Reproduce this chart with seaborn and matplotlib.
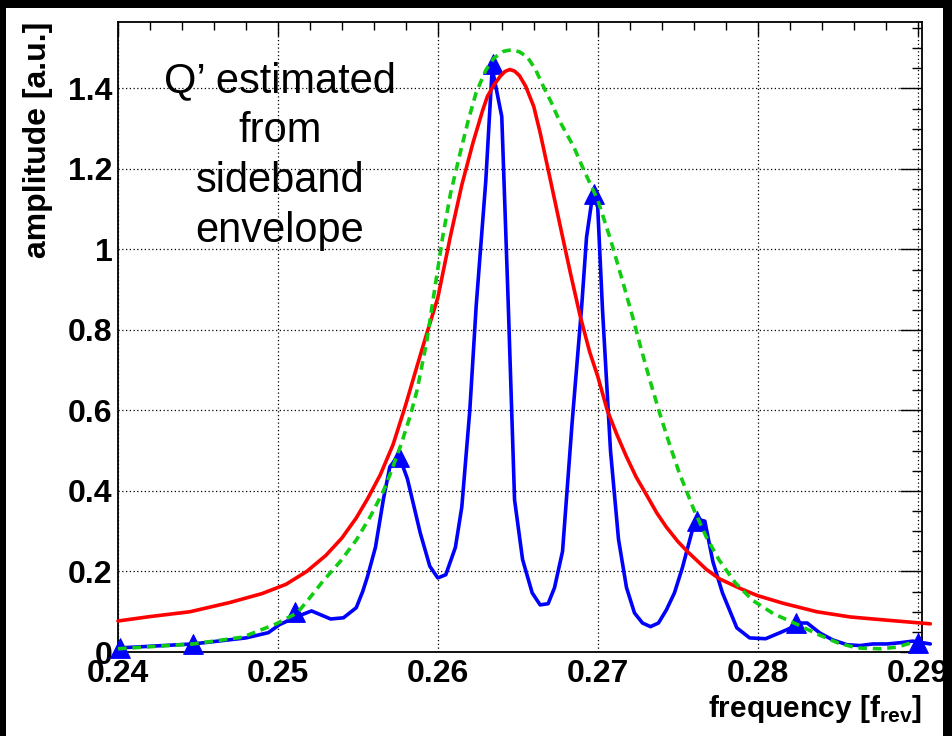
import matplotlib
matplotlib.use("Agg")
import matplotlib.pyplot as plt
from matplotlib.patches import Rectangle
from matplotlib.ticker import MultipleLocator, FuncFormatter
import seaborn as sns
import pandas as pd

# ---------------- data ----------------
blue_x = [0.2400, 0.2447, 0.2480, 0.2494, 0.2501, 0.2512, 0.2521, 0.2527, 0.2533, 0.2541,
          0.2549, 0.2553, 0.2556, 0.2561, 0.2566, 0.2570, 0.2573, 0.2576, 0.2581, 0.2589,
          0.2595, 0.2600, 0.2605, 0.2611, 0.2615, 0.2620, 0.2624, 0.2630, 0.2634, 0.2640,
          0.2644, 0.2648, 0.2653, 0.2659, 0.2664, 0.2669, 0.2673, 0.2678, 0.2684, 0.2690,
          0.2693, 0.2697, 0.2700, 0.2703, 0.2708, 0.2713, 0.2718, 0.2723, 0.2728, 0.2733,
          0.2738, 0.2743, 0.2748, 0.2753, 0.2759, 0.2762, 0.2767, 0.2772, 0.2778, 0.2787,
          0.2795, 0.2805, 0.2814, 0.2822, 0.2827, 0.2831, 0.2839, 0.2847, 0.2856, 0.2864,
          0.2872, 0.2881, 0.2889, 0.2897, 0.2908]
blue_y = [0.010, 0.020, 0.035, 0.048, 0.068, 0.088, 0.102, 0.092, 0.082, 0.085,
          0.110, 0.150, 0.187, 0.260, 0.380, 0.460, 0.475, 0.485, 0.430, 0.296,
          0.213, 0.184, 0.192, 0.260, 0.360, 0.600, 0.860, 1.170, 1.450, 1.330,
          0.870, 0.378, 0.230, 0.147, 0.117, 0.120, 0.160, 0.250, 0.570, 0.860,
          1.030, 1.140, 1.105, 0.850, 0.500, 0.280, 0.160, 0.097, 0.072, 0.063,
          0.072, 0.105, 0.147, 0.210, 0.300, 0.330, 0.325, 0.225, 0.147, 0.060,
          0.035, 0.033, 0.048, 0.062, 0.072, 0.072, 0.047, 0.030, 0.018, 0.016,
          0.020, 0.020, 0.023, 0.027, 0.020]

marker_x = [0.2401, 0.2447, 0.2511, 0.2576, 0.26345, 0.26977, 0.2762, 0.2824, 0.2900]
marker_y = [0.010, 0.020, 0.100, 0.485, 1.461, 1.138, 0.326, 0.073, 0.023]

red_x = [0.2400, 0.2420, 0.2445, 0.2470, 0.2490, 0.2505, 0.2518, 0.2530, 0.2540, 0.2549,
         0.2556, 0.2564, 0.2572, 0.2580, 0.2587, 0.2593, 0.2600, 0.2608, 0.2615, 0.2622,
         0.2628, 0.2631, 0.2635, 0.2639, 0.2642, 0.2645, 0.2648, 0.2651, 0.2655, 0.2660,
         0.2664, 0.2670, 0.2677, 0.2683, 0.2689, 0.2695, 0.2700, 0.2706, 0.2712, 0.2718,
         0.2724, 0.2731, 0.2737, 0.2743, 0.2750, 0.2756, 0.2768, 0.2776, 0.2789, 0.2800,
         0.2816, 0.2837, 0.2858, 0.2878, 0.2908]
red_y = [0.077, 0.088, 0.100, 0.123, 0.145, 0.168, 0.200, 0.240, 0.283, 0.333,
         0.380, 0.440, 0.515, 0.615, 0.710, 0.790, 0.880, 1.035, 1.160, 1.265,
         1.345, 1.380, 1.408, 1.430, 1.442, 1.447, 1.443, 1.432, 1.405, 1.355,
         1.290, 1.180, 1.050, 0.940, 0.835, 0.745, 0.685, 0.600, 0.540, 0.485,
         0.435, 0.387, 0.345, 0.310, 0.275, 0.250, 0.205, 0.182, 0.158, 0.140,
         0.121, 0.100, 0.087, 0.080, 0.070]

green_x = [0.2400, 0.2447, 0.2478, 0.2499, 0.2512, 0.2518, 0.2528, 0.2539, 0.2549, 0.2558,
           0.2566, 0.2570, 0.2577, 0.2583, 0.2587, 0.2593, 0.2598, 0.2603, 0.2608, 0.2614,
           0.2619, 0.2624, 0.2630, 0.2635, 0.2641, 0.2646, 0.2651, 0.2656, 0.2661, 0.2666,
           0.2671, 0.2676, 0.2685, 0.2691, 0.2700, 0.2708, 0.2716, 0.2722, 0.2727, 0.2733,
           0.2739, 0.2745, 0.2751, 0.2760, 0.2768, 0.2776, 0.2786, 0.2797, 0.2810, 0.2825,
           0.2837, 0.2850, 0.2862, 0.2877, 0.2887, 0.2898]
green_y = [0.008, 0.020, 0.037, 0.070, 0.097, 0.125, 0.175, 0.225, 0.278, 0.338,
           0.400, 0.440, 0.515, 0.590, 0.650, 0.770, 0.900, 1.030, 1.140, 1.240,
           1.320, 1.390, 1.445, 1.475, 1.492, 1.496, 1.491, 1.478, 1.448, 1.405,
           1.365, 1.320, 1.255, 1.200, 1.123, 1.025, 0.915, 0.830, 0.755, 0.670,
           0.590, 0.515, 0.445, 0.355, 0.285, 0.228, 0.172, 0.128, 0.095, 0.068,
           0.045, 0.023, 0.010, 0.008, 0.012, 0.025]

x_ticks = [0.24, 0.25, 0.26, 0.27, 0.28, 0.29]
y_ticks = [0, 0.2, 0.4, 0.6, 0.8, 1.0, 1.2, 1.4]
x_label = "frequency [f$_{\\mathbf{rev}}$]"
y_label = "amplitude [a.u.]"
note_text = "Q\u2019 estimated\nfrom\nsideband\nenvelope"

# ---------------- style ----------------
sns.set_style("white")
plt.rcParams["font.family"] = ["Liberation Sans", "DejaVu Sans"]
plt.rcParams["mathtext.fontset"] = "custom"
plt.rcParams["mathtext.rm"] = "Liberation Sans"
plt.rcParams["mathtext.bf"] = "Liberation Sans:bold"
plt.rcParams["text.color"] = "black"
plt.rcParams["axes.labelcolor"] = "black"
plt.rcParams["xtick.color"] = "black"
plt.rcParams["ytick.color"] = "black"

W, H = 953, 736
fig = plt.figure(figsize=(W / 100, H / 100), dpi=100, facecolor="white")
ax_l, ax_r, ax_t, ax_b = 118, 922, 22, 652
ax = fig.add_axes([ax_l / W, 1 - ax_b / H, (ax_r - ax_l) / W, (ax_b - ax_t) / H])
ax.set_facecolor("white")

df_blue = pd.DataFrame({"f": blue_x, "a": blue_y})
df_red = pd.DataFrame({"f": red_x, "a": red_y})
df_green = pd.DataFrame({"f": green_x, "a": green_y})
df_mark = pd.DataFrame({"f": marker_x, "a": marker_y})

LW = 2.6
sns.lineplot(data=df_blue, x="f", y="a", ax=ax, color="#0000ff", linewidth=LW,
             sort=False, estimator=None, zorder=3, clip_on=False)
sns.scatterplot(data=df_mark, x="f", y="a", ax=ax, marker="^", s=200, color="#0000ff",
                edgecolor="#0000ff", linewidth=0.8, zorder=4, clip_on=False)
sns.lineplot(data=df_red, x="f", y="a", ax=ax, color="#ff0000", linewidth=LW,
             sort=False, estimator=None, zorder=5, clip_on=False)
sns.lineplot(data=df_green, x="f", y="a", ax=ax, color="#11cc11", linewidth=LW,
             sort=False, estimator=None, zorder=6, clip_on=False,
             linestyle=(0, (2.4, 1.6)))

ax.set_xlim(0.24, 0.29028)
ax.set_ylim(0, 1.565)
ax.set_xticks(x_ticks)
ax.set_yticks(y_ticks)
ax.xaxis.set_minor_locator(MultipleLocator(0.002))
ax.yaxis.set_minor_locator(MultipleLocator(0.05))
ax.xaxis.set_major_formatter(FuncFormatter(lambda v, p: "%g" % round(v, 4)))
ax.yaxis.set_major_formatter(FuncFormatter(lambda v, p: "%g" % round(v, 4)))

ax.grid(True, which="major", color="black", linestyle=(0, (1, 2)), linewidth=0.9)
ax.set_axisbelow(True)

ax.tick_params(axis="both", which="both", direction="in", top=True, right=True,
               color="black", labelcolor="black", width=1.0)
ax.tick_params(axis="x", which="major", length=10, labelsize=23, pad=5)
ax.tick_params(axis="x", which="minor", length=6)
ax.tick_params(axis="y", which="major", length=16, labelsize=23, pad=4)
ax.tick_params(axis="y", which="minor", length=7)
for lab in ax.get_xticklabels() + ax.get_yticklabels():
    lab.set_fontweight("bold")

for sp in ax.spines.values():
    sp.set_visible(True)
    sp.set_color("black")
    sp.set_linewidth(1.3)

ax.set_xlabel(x_label, fontsize=21.5, fontweight="bold", color="black")
ax.xaxis.label.set_ha("right")
ax.xaxis.label.set_va("baseline")
ax.xaxis.set_label_coords(1.0, (ax_b - 717) / (ax_b - ax_t))

ax.set_ylabel(y_label, fontsize=23, fontweight="bold", color="black")
ax.yaxis.label.set_ha("right")
ax.yaxis.label.set_va("bottom")
ax.yaxis.set_label_coords((53 - ax_l) / (ax_r - ax_l), 1.0)

ax.text((280 - ax_l) / (ax_r - ax_l), (ax_b - 156) / (ax_b - ax_t), note_text,
        transform=ax.transAxes, ha="center", va="center", multialignment="center",
        fontsize=30, linespacing=1.32, color="black", zorder=7)

# black frame around the canvas
for (x0, y0, w, h) in [(0, H - 8, W, 8), (0, 0, 6, H), (943, 0, W - 943, H)]:
    fig.add_artist(Rectangle((x0 / W, y0 / H), w / W, h / H, transform=fig.transFigure,
                             facecolor="black", edgecolor="none", zorder=100))

fig.savefig("out.png", dpi=100, facecolor="white")
